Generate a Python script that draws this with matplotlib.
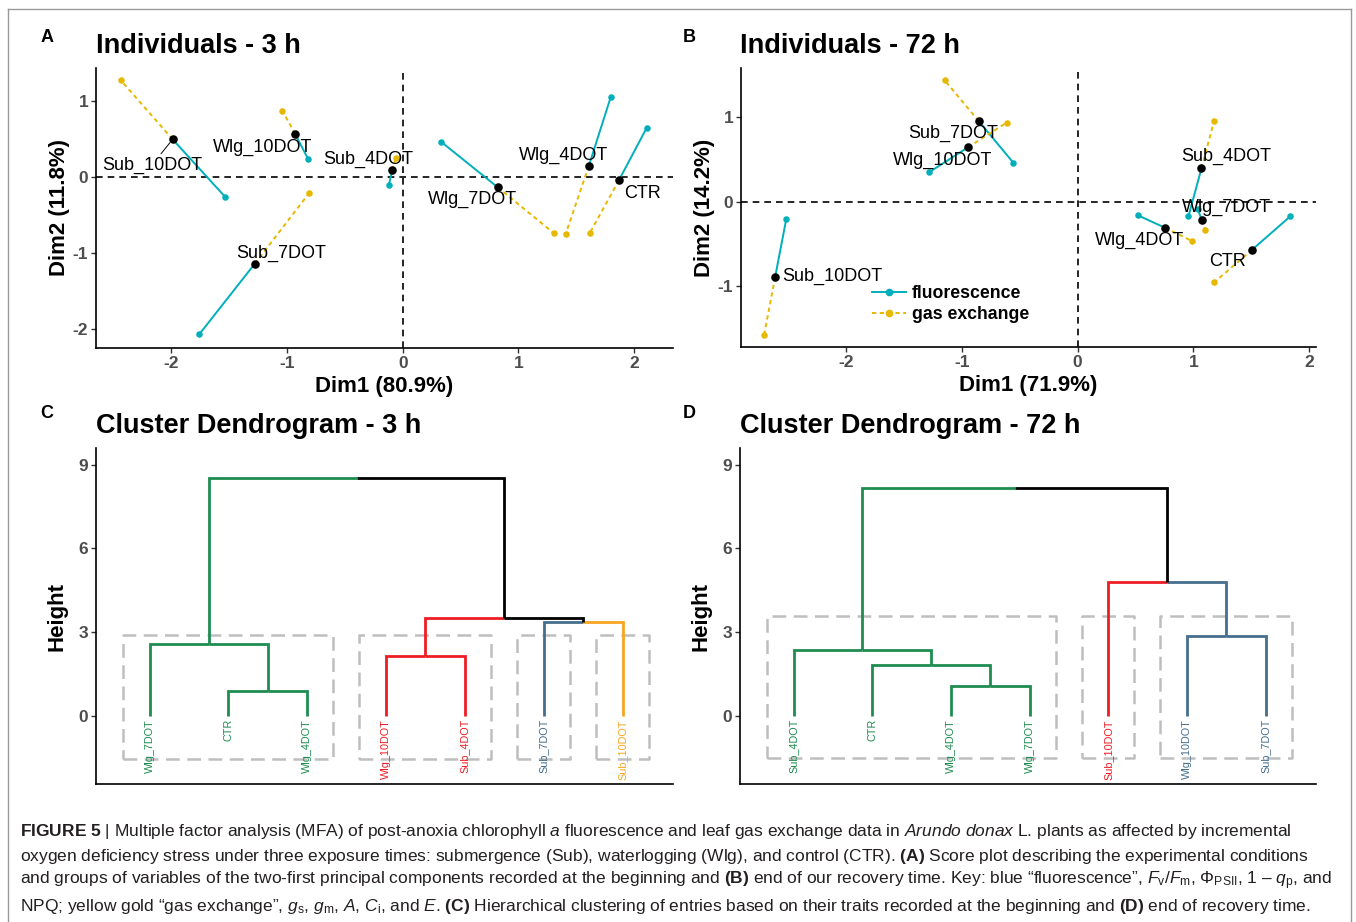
import numpy as np
import matplotlib
matplotlib.use("Agg")
import matplotlib.pyplot as plt
from matplotlib.lines import Line2D

plt.rcParams['font.family'] = ['Liberation Sans', 'DejaVu Sans']
plt.rcParams['axes.unicode_minus'] = False
plt.rcParams['mathtext.fontset'] = 'custom'
plt.rcParams['mathtext.rm'] = 'Liberation Sans'
plt.rcParams['mathtext.it'] = 'Liberation Sans:italic'
plt.rcParams['mathtext.bf'] = 'Liberation Sans:bold'

# ---------------- data: MFA individuals, 3 h ----------------
ind_3h = ["Sub_10DOT", "Wlg_10DOT", "Sub_4DOT", "Sub_7DOT", "Wlg_7DOT", "Wlg_4DOT", "CTR"]
center_3h_x = [-1.99, -0.93, -0.09, -1.28, 0.82, 1.61, 1.87]
center_3h_y = [0.50, 0.57, 0.09, -1.14, -0.13, 0.15, -0.04]
fluo_3h_x = [-1.535, -0.82, -0.12, -1.76, 0.33, 1.80, 2.11]
fluo_3h_y = [-0.26, 0.245, -0.10, -2.07, 0.47, 1.06, 0.65]
gas_3h_x = [-2.44, -1.04, -0.06, -0.81, 1.31, 1.41, 1.62]
gas_3h_y = [1.28, 0.875, 0.26, -0.21, -0.74, -0.745, -0.73]

# ---------------- data: MFA individuals, 72 h ----------------
ind_72h = ["Sub_10DOT", "Sub_7DOT", "Wlg_10DOT", "Sub_4DOT", "Wlg_7DOT", "Wlg_4DOT", "CTR"]
center_72h_x = [-2.615, -0.855, -0.948, 1.07, 1.073, 0.754, 1.508]
center_72h_y = [-0.89, 0.947, 0.639, 0.39, -0.215, -0.308, -0.567]
fluo_72h_x = [-2.519, -0.557, -1.284, 0.957, 1.037, 0.519, 1.836]
fluo_72h_y = [-0.208, 0.459, 0.345, -0.176, -0.09, -0.161, -0.176]
gas_72h_x = [-2.71, -1.151, -0.614, 1.18, 1.104, 0.986, 1.179]
gas_72h_y = [-1.569, 1.431, 0.929, 0.953, -0.333, -0.463, -0.953]

dim_3h = [80.9, 11.8]
dim_72h = [71.9, 14.2]

xticks_ind = [-2, -1, 0, 1, 2]
yticks_3h = [-2, -1, 0, 1]
yticks_72h = [-1, 0, 1]

# ---------------- data: dendrograms ----------------
# merges are (child a, child b, height); index >= n points to an earlier merge
leaves_3h = ["Wlg_7DOT", "CTR", "Wlg_4DOT", "Wlg_10DOT", "Sub_4DOT", "Sub_7DOT", "Sub_10DOT"]
groups_3h = [0, 0, 0, 1, 1, 2, 3]
merges_3h = [(1, 2, 0.90), (3, 4, 2.14), (0, 7, 2.56), (5, 6, 3.37), (8, 10, 3.49), (9, 11, 8.52)]
rect_3h = (-1.55, 2.89)

leaves_72h = ["Sub_4DOT", "CTR", "Wlg_4DOT", "Wlg_7DOT", "Sub_10DOT", "Wlg_10DOT", "Sub_7DOT"]
groups_72h = [0, 0, 0, 0, 1, 2, 2]
merges_72h = [(2, 3, 1.08), (1, 7, 1.82), (0, 8, 2.36), (5, 6, 2.87), (4, 10, 4.80), (9, 11, 8.16)]
rect_72h = (-1.53, 3.58)

height_ticks = [0, 3, 6, 9]

# styles
CYAN = "#00AFBB"
GOLD = "#E7B800"
colors_3h = ["#1E8C50", "#EE1D25", "#466F8E", "#F6A623"]
colors_72h = ["#1E8C50", "#EE1D25", "#466F8E"]
TICK_GREY = "#4D4D4D"

# label placement (repel positions, data units)
lab_3h = {"Sub_10DOT": (-2.17, 0.16), "Wlg_10DOT": (-1.21, 0.40), "Sub_4DOT": (-0.30, 0.24),
          "Wlg_4DOT": (1.39, 0.29), "CTR": (2.07, -0.21), "Wlg_7DOT": (0.60, -0.29),
          "Sub_7DOT": (-1.05, -1.0)}
lab_72h = {"Sub_7DOT": (-1.08, 0.80), "Wlg_10DOT": (-1.17, 0.49), "Sub_4DOT": (1.285, 0.526),
           "Wlg_7DOT": (1.29, -0.074), "Wlg_4DOT": (0.534, -0.462), "CTR": (1.294, -0.709),
           "Sub_10DOT": (-2.117, -0.886)}


def style_axes(ax):
    for side in ["top", "right"]:
        ax.spines[side].set_visible(False)
    for side in ["left", "bottom"]:
        ax.spines[side].set_linewidth(1.2)
        ax.spines[side].set_color("black")
    ax.tick_params(direction="out", length=3.5, width=1, color="#333333",
                   labelsize=12.5, labelcolor=TICK_GREY, pad=2)
    for lab in ax.get_xticklabels() + ax.get_yticklabels():
        lab.set_fontweight("bold")


def plot_individuals(ax, names, cx, cy, fx, fy, gx, gy, labels, dims, xlim, ylim,
                     xticks, yticks, segment=None):
    ax.axhline(0, color="black", lw=1.2, ls=(0, (4, 3)), zorder=1)
    ax.axvline(0, color="black", lw=1.2, ls=(0, (4, 3)), zorder=1)
    for i in range(len(names)):
        ax.plot([cx[i], fx[i]], [cy[i], fy[i]], color=CYAN, lw=1.4, zorder=2)
        ax.plot([cx[i], gx[i]], [cy[i], gy[i]], color=GOLD, lw=1.4, ls=(0, (2.2, 1.8)), zorder=2)
    ax.scatter(fx, fy, s=22, color=CYAN, zorder=3, linewidths=0)
    ax.scatter(gx, gy, s=22, color=GOLD, zorder=3, linewidths=0)
    ax.scatter(cx, cy, s=38, color="black", zorder=4, linewidths=0)
    for i, n in enumerate(names):
        lx, ly = labels[n]
        if n == segment:
            ax.annotate(n, xy=(cx[i], cy[i]), xytext=(lx, ly), fontsize=13, ha="center", va="center",
                        arrowprops=dict(arrowstyle="-", lw=0.7, color="black", shrinkA=0, shrinkB=3),
                        zorder=5)
        else:
            ax.text(lx, ly, n, fontsize=13, ha="center", va="center", zorder=5)
    ax.set_xlim(*xlim)
    ax.set_ylim(*ylim)
    ax.set_xticks(xticks)
    ax.set_yticks(yticks)
    ax.set_xlabel("Dim1 (%.1f%%)" % dims[0], fontsize=16, fontweight="bold", labelpad=4)
    ax.set_ylabel("Dim2 (%.1f%%)" % dims[1], fontsize=16, fontweight="bold", labelpad=2)
    style_axes(ax)


def plot_dendrogram(ax, leaves, groups, merges, palette, rect):
    n = len(leaves)
    pos = {i: (i + 1.0, 0.0, {groups[i]}) for i in range(n)}
    for k, (a, b, h) in enumerate(merges):
        xa, ha, ga = pos[a]
        xb, hb, gb = pos[b]
        xm = (xa + xb) / 2
        for xc, hc, gc in [(xa, ha, ga), (xb, hb, gb)]:
            col = palette[list(gc)[0]] if len(gc) == 1 else "black"
            ax.plot([xc, xc, xm], [hc, h, h], color=col, lw=2.0,
                    solid_capstyle="butt", solid_joinstyle="miter", zorder=3)
        pos[n + k] = (xm, h, ga | gb)

    for i, name in enumerate(leaves):
        ax.text(i + 1, -0.12, name, rotation=90, ha="center", va="top",
                fontsize=7.8, color=palette[groups[i]])

    # dashed boxes around clusters
    for g in sorted(set(groups)):
        idx = [i + 1 for i in range(n) if groups[i] == g]
        x0, x1 = min(idx) - 0.34, max(idx) + 0.33
        ax.plot([x0, x1, x1, x0, x0], [rect[0], rect[0], rect[1], rect[1], rect[0]],
                color="#BEBEBE", lw=1.8, ls=(0, (5.5, 3)), zorder=2)

    ax.set_xlim(0.32, 7.64)
    ax.set_ylim(-2.45, 9.6)
    ax.set_yticks(height_ticks)
    ax.set_xticks([])
    ax.set_ylabel("Height", fontsize=16, fontweight="bold", labelpad=8)
    style_axes(ax)


fig = plt.figure(figsize=(13.56, 9.22), dpi=100)
W, H = 1356.0, 922.0


def box(l, r, t, b):
    return [l / W, 1 - b / H, (r - l) / W, (b - t) / H]


ax_a = fig.add_axes(box(96, 673, 68, 348))
ax_b = fig.add_axes(box(741, 1316, 68, 347))
ax_c = fig.add_axes(box(96, 673, 448, 784))
ax_d = fig.add_axes(box(740, 1316, 448, 784))

plot_individuals(ax_a, ind_3h, center_3h_x, center_3h_y, fluo_3h_x, fluo_3h_y,
                 gas_3h_x, gas_3h_y, lab_3h, dim_3h, (-2.653, 2.338), (-2.25, 1.44),
                 xticks_ind, yticks_3h, segment="Sub_10DOT")
plot_individuals(ax_b, ind_72h, center_72h_x, center_72h_y, fluo_72h_x, fluo_72h_y,
                 gas_72h_x, gas_72h_y, lab_72h, dim_72h, (-2.91, 2.06), (-1.713, 1.573),
                 xticks_ind, yticks_72h)

handles = [Line2D([], [], color=CYAN, lw=1.4, marker="o", markersize=4.5),
           Line2D([], [], color=GOLD, lw=1.4, ls=(0, (2.2, 1.8)), marker="o", markersize=4.5)]
leg = ax_b.legend(handles, ["fluorescence", "gas exchange"], loc="upper left",
                  bbox_to_anchor=(0.227, 0.222), frameon=False, numpoints=1,
                  handlelength=1.95, handletextpad=0.35, labelspacing=0.25,
                  borderpad=0, borderaxespad=0, prop={"size": 12.7, "weight": "bold"})

plot_dendrogram(ax_c, leaves_3h, groups_3h, merges_3h, colors_3h, rect_3h)
plot_dendrogram(ax_d, leaves_72h, groups_72h, merges_72h, colors_72h, rect_72h)

# titles and panel letters
titles = [("Individuals - 3 h", 96, 46), ("Individuals - 72 h", 740, 46),
          ("Cluster Dendrogram - 3 h", 96, 426), ("Cluster Dendrogram - 72 h", 740, 426)]
for txt, x, y in titles:
    fig.text(x / W, 1 - y / H, txt, fontsize=19.5, fontweight="bold", ha="left", va="center")
for letter, x, y in [("A", 47, 37), ("B", 689, 37), ("C", 47, 413), ("D", 689, 413)]:
    fig.text(x / W, 1 - y / H, letter, fontsize=13, fontweight="bold", ha="center", va="center")

# caption
caption = [
    r"$\mathbf{FIGURE\ 5}$ | Multiple factor analysis (MFA) of post-anoxia chlorophyll $\mathit{a}$ fluorescence and leaf gas exchange data in $\mathit{Arundo\ donax}$ L. plants as affected by incremental",
    r"oxygen deficiency stress under three exposure times: submergence (Sub), waterlogging (Wlg), and control (CTR). $\mathbf{(A)}$ Score plot describing the experimental conditions",
    r"and groups of variables of the two-first principal components recorded at the beginning and $\mathbf{(B)}$ end of our recovery time. Key: blue “fluorescence”, $F_{\mathrm{v}}/F_{\mathrm{m}}$, $\Phi_{\mathrm{PSII}}$, 1 – $q_{\mathrm{p}}$, and",
    r"NPQ; yellow gold “gas exchange”, $g_{\mathrm{s}}$, $g_{\mathrm{m}}$, $A$, $C_{\mathrm{i}}$, and $E$. $\mathbf{(C)}$ Hierarchical clustering of entries based on their traits recorded at the beginning and $\mathbf{(D)}$ end of recovery time.",
]
for i, line in enumerate(caption):
    fig.text(20 / W, 1 - (831 + i * 25) / H, line, fontsize=12.5, color="#231F20",
             ha="left", va="center")

# outer frame of the figure
frame = dict(color="#9A9A9A", lw=1.0, transform=fig.transFigure)
fig.add_artist(Line2D([8 / W, 8 / W], [0, 1 - 9 / H], **frame))
fig.add_artist(Line2D([8 / W, 1351 / W], [1 - 9 / H, 1 - 9 / H], **frame))
fig.add_artist(Line2D([1351 / W, 1351 / W], [0, 1 - 9 / H], **frame))

fig.savefig("out.png", dpi=100)
